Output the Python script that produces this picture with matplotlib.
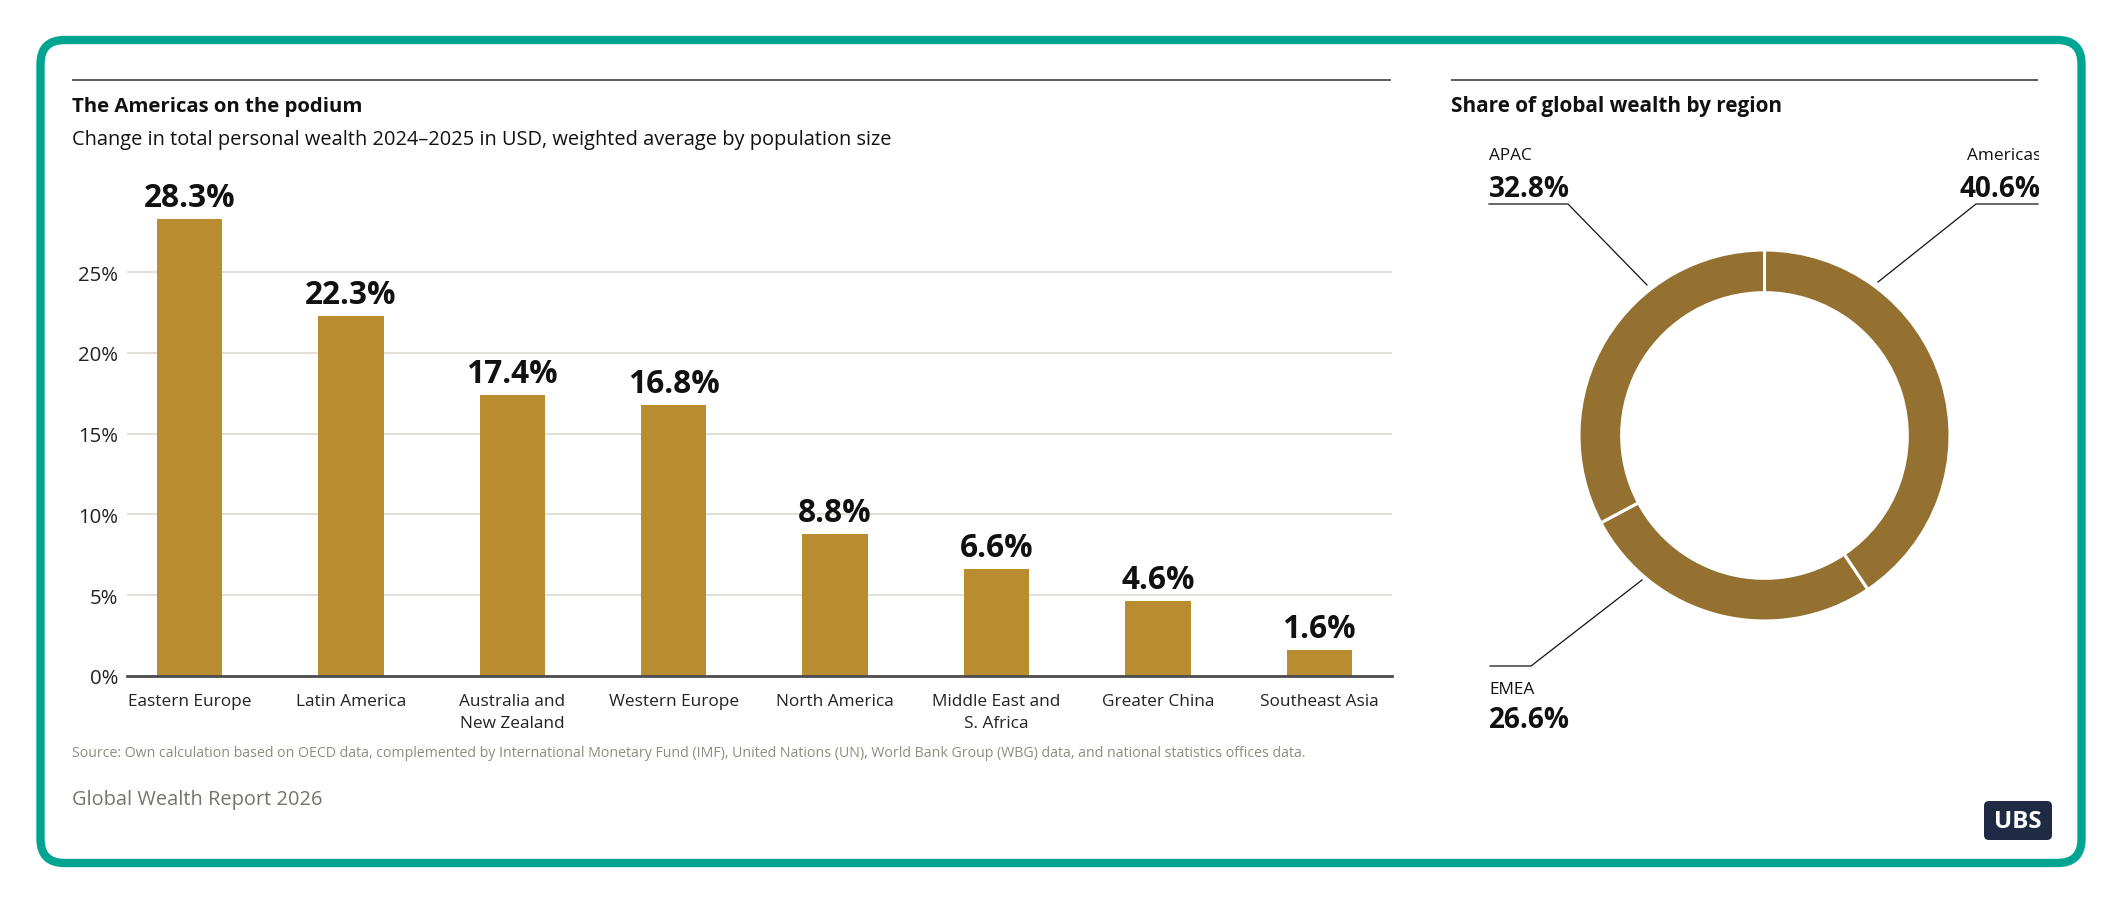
import matplotlib
matplotlib.use("Agg")
import matplotlib.pyplot as plt
from matplotlib.patches import FancyBboxPatch
from matplotlib.transforms import Bbox
import numpy as np

plt.rcParams['font.family'] = ['Open Sans', 'DejaVu Sans']

# ---------------- data ----------------
categories = ["Eastern Europe", "Latin America", "Australia and\nNew Zealand", "Western Europe",
              "North America", "Middle East and\nS. Africa", "Greater China", "Southeast Asia"]
values = [28.3, 22.3, 17.4, 16.8, 8.8, 6.6, 4.6, 1.6]
yticks = [0, 5, 10, 15, 20, 25]
regions = ["Americas", "EMEA", "APAC"]
shares = [40.6, 26.6, 32.8]

# ---------------- figure ----------------
W, H = 2122, 903
fig = plt.figure(figsize=(W / 100, H / 100), dpi=100)
fig.patch.set_facecolor("white")
renderer = fig.canvas.get_renderer()


def px_ax(left, top, right, bottom):
    return [left / W, 1 - bottom / H, (right - left) / W, (bottom - top) / H]


def fit(t, target):
    bb = t.get_window_extent(renderer)
    t.set_fontsize(t.get_fontsize() * target / bb.width)
    return t.get_fontsize()


def size_for(s, target, **kw):
    t = fig.text(0, 0, s, fontsize=20, **kw)
    fs = fit(t, target)
    t.remove()
    return fs


BAR = "#B98D2F"
DONUT = "#947130"
TEAL = "#00A591"

# ---------------- bar chart ----------------
y0_px, px_per = 676.7, 16.136
ax = fig.add_axes(px_ax(127, y0_px - 30 * px_per, 1392, y0_px))
x = np.arange(len(categories))
ax.bar(x, values, width=0.406, color=BAR, zorder=2)
ax.set_xlim(-0.387, 7.45)
ax.set_ylim(0, 30)

ytick_fs = size_for("25%", 40)
xtick_fs = size_for("Eastern Europe", 123)
lab_fs = size_for("28.3%", 92, weight="bold")

ax.set_yticks(yticks, labels=[f"{v}%" for v in yticks])
ax.set_xticks(x, labels=categories)
ax.tick_params(axis="y", length=0, pad=6.5, labelsize=ytick_fs, labelcolor="#222222")
ax.tick_params(axis="x", length=0, pad=12.5, labelsize=xtick_fs, labelcolor="#222222")
for lbl in ax.get_xticklabels():
    lbl.set_linespacing(1.5)
ax.yaxis.grid(True, color="#d9d6cd", lw=1.1, zorder=0)
ax.set_axisbelow(True)
for s in ["top", "right", "left"]:
    ax.spines[s].set_visible(False)
ax.spines["bottom"].set_color("#4d4d4d")
ax.spines["bottom"].set_linewidth(2.0)
ax.spines["bottom"].set_zorder(3)

for xi, v in zip(x, values):
    ax.annotate(f"{v}%", (xi, v), xytext=(0, 9.4), textcoords="offset points",
                ha="center", va="baseline", fontsize=lab_fs, fontweight="bold",
                color="#111111", annotation_clip=False)

# ---------------- donut ----------------
cx, cy, R = 1764.5, 436.5, 185.5
dax = fig.add_axes(px_ax(cx - 200, cy - 200, cx + 200, cy + 200))
dax.pie(shares, colors=[DONUT] * 3, startangle=90, counterclock=False, radius=1,
        wedgeprops=dict(width=0.23, edgecolor="white", linewidth=2.2))
lim = 200 / R
dax.set_xlim(-lim, lim)
dax.set_ylim(-lim, lim)
dax.set_aspect("equal")
dax.axis("off")

# ---------------- overlay (pixel coords) ----------------
ov = fig.add_axes([0, 0, 1, 1])
ov.set_xlim(0, W)
ov.set_ylim(H, 0)
ov.axis("off")
ov.set_zorder(10)

# card border
ov.add_patch(FancyBboxPatch((40.5, 41), 2041, 823, boxstyle="round,pad=0,rounding_size=24",
                            fill=False, ec=TEAL, lw=6.0))

# rules
ov.plot([72, 1391], [80.7, 80.7], color="#5c5c5c", lw=1.4, solid_capstyle="butt")
ov.plot([1451, 2038], [80.7, 80.7], color="#5c5c5c", lw=1.4, solid_capstyle="butt")

# titles
t = ov.text(72, 112, "The Americas on the podium", fontsize=14, fontweight="bold",
            color="#111111", va="baseline", ha="left")
fit(t, 293)
t = ov.text(72, 145, "Change in total personal wealth 2024\u20132025 in USD, weighted average by population size",
            fontsize=14, color="#111111", va="baseline", ha="left")
fit(t, 821)
t = ov.text(1451, 112, "Share of global wealth by region", fontsize=14, fontweight="bold",
            color="#111111", va="baseline", ha="left")
fit(t, 335)

# source and footer
t = ov.text(72.5, 757, "Source: Own calculation based on OECD data, complemented by International Monetary Fund (IMF), "
            "United Nations (UN), World Bank Group (WBG) data, and national statistics offices data.",
            fontsize=10, color="#8f8b82", va="baseline", ha="left")
fit(t, 1233)
t = ov.text(72.5, 805, "Global Wealth Report 2026", fontsize=14, color="#75746c", va="baseline", ha="left")
fit(t, 251)

# donut labels
reg_fs = size_for("APAC", 43)
pct_fs = size_for("32.8%", 81, weight="bold")
clip = Bbox([[0, 0], [2038.5, H]])

share = dict(zip(regions, shares))
ov.text(1489, 160, "APAC", fontsize=reg_fs, color="#111111", va="baseline", ha="left")
ov.text(1489, 197, f"{share['APAC']}%", fontsize=pct_fs, fontweight="bold", color="#111111",
        va="baseline", ha="left")
ov.plot([1489, 1568, 1647], [205, 205, 286], color="#111111", lw=0.9)

t1 = ov.text(2041, 160, "Americas", fontsize=reg_fs, color="#111111", va="baseline", ha="right")
t2 = ov.text(2041, 197, f"{share['Americas']}%", fontsize=pct_fs, fontweight="bold", color="#111111",
             va="baseline", ha="right")
for tt in (t1, t2):
    tt.set_clip_on(True)
    tt.set_clip_box(clip)
ov.plot([2038, 1976, 1878], [205, 205, 283], color="#111111", lw=0.9)

ov.text(1489, 694, "EMEA", fontsize=reg_fs, color="#111111", va="baseline", ha="left")
ov.text(1489, 728, f"{share['EMEA']}%", fontsize=pct_fs, fontweight="bold", color="#111111",
        va="baseline", ha="left")
ov.plot([1490, 1531, 1642], [667, 667, 581], color="#111111", lw=0.9)

# UBS logo
ov.add_patch(FancyBboxPatch((1984, 802), 68, 39, boxstyle="round,pad=0,rounding_size=5",
                            fc="#1f2b45", ec="none"))
t = ov.text(2018, 822, "UBS", fontsize=14, fontweight="bold", color="white", va="center", ha="center")
fit(t, 48)

fig.savefig("out.png", dpi=100, facecolor="white")
